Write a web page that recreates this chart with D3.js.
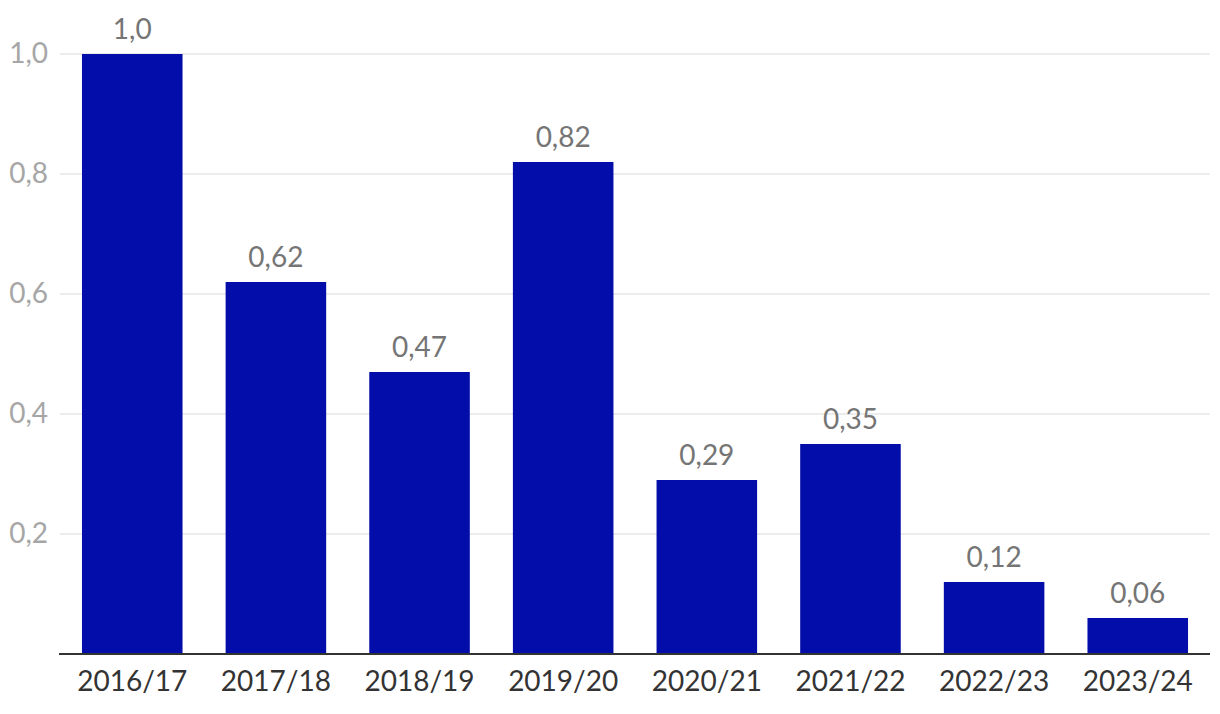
<!DOCTYPE html>
<html><head><meta charset="utf-8">
<script src="https://cdn.jsdelivr.net/npm/d3@7"></script>
<style>body{margin:0;background:#fff}svg{display:block}text{font-family:Lato,sans-serif}</style>
</head><body><svg id="c" width="1220" height="714"></svg>
<script>
const categories = ["2016/17","2017/18","2018/19","2019/20","2020/21","2021/22","2022/23","2023/24"];
const values = [1.0,0.62,0.47,0.82,0.29,0.35,0.12,0.06];
const valueLabels = ["1,0","0,62","0,47","0,82","0,29","0,35","0,12","0,06"];
const yTicks = [0.2,0.4,0.6,0.8,1.0];
const yTickLabels = ["0,2","0,4","0,6","0,8","1,0"];

const svg = d3.select("#c");
const m = {l:60, r:10, t:54, b:60};
const W = 1220, H = 714;
const x = d3.scaleBand().domain(categories).range([m.l, W-m.r]).paddingInner(0.3).paddingOuter(0.153);
const y = d3.scaleLinear().domain([0,1]).range([654,54]);

const grid = svg.append("g");
grid.selectAll("line").data(yTicks).join("line")
  .attr("x1", m.l).attr("x2", W-m.r)
  .attr("y1", d=>y(d)).attr("y2", d=>y(d))
  .attr("stroke","#e6e6e6").attr("stroke-width",1.5);

const yAxis = d3.axisLeft(y).tickValues(yTicks).tickFormat((d,i)=>yTickLabels[i]).tickSize(0).tickPadding(12);
const ya = svg.append("g").attr("transform",`translate(${m.l},0)`).call(yAxis);
ya.select(".domain").remove();
ya.selectAll("text").attr("fill","#a6a6a6").style("font-size","28px").style("font-family","Lato");

svg.append("g").selectAll("rect").data(values).join("rect")
  .attr("x",(d,i)=>x(categories[i])).attr("width",x.bandwidth())
  .attr("y",d=>y(d)).attr("height",d=>y(0)-y(d)).attr("fill","#030daa");

svg.append("g").selectAll("text").data(values).join("text")
  .attr("x",(d,i)=>x(categories[i])+x.bandwidth()/2).attr("y",d=>y(d)-15)
  .attr("text-anchor","middle").attr("fill","#757575").style("font-size","28px")
  .text((d,i)=>valueLabels[i]);

const xAxis = d3.axisBottom(x).tickSize(0).tickPadding(17);
const xa = svg.append("g").attr("transform",`translate(0,${y(0)})`).call(xAxis);
xa.select(".domain").attr("stroke","#333").attr("stroke-width",2).attr("d",`M${m.l-1},0H${W-m.r}`);
xa.selectAll("text").attr("fill","#333").style("font-size","28px").style("font-family","Lato");
</script></body></html>
